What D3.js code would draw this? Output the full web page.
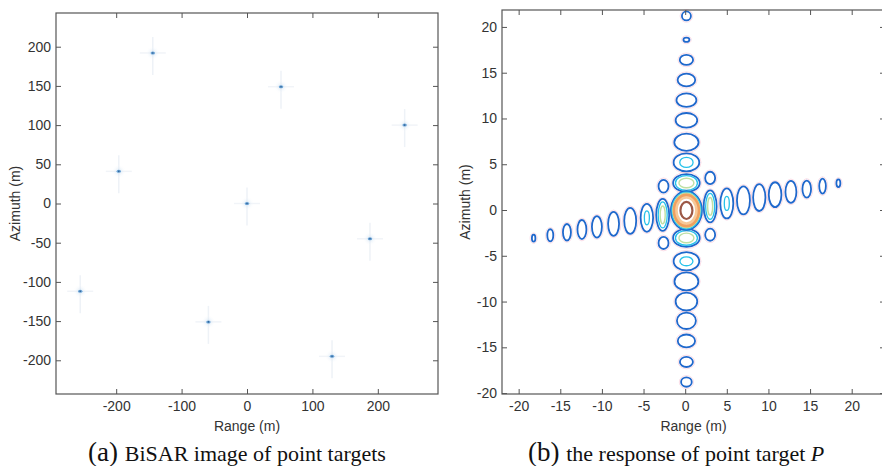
<!DOCTYPE html>
<html>
<head>
<meta charset="utf-8">
<script src="https://cdn.jsdelivr.net/npm/d3@7"></script>
<style>
  body { margin: 0; background: #fff; }
  svg { display: block; }
</style>
</head>
<body>
<script>
// ---- panel (a): point targets, range / azimuth in metres
const targetRange = [-144, 52, 241, -196, 0, 188, -255, -59, 130]
const targetAzimuth = [192, 149, 100, 41, 0, -45, -112, -151, -195]
const aRangeTicks = [-200, -100, 0, 100, 200]
const aAzimuthTicks = [-200, -150, -100, -50, 0, 50, 100, 150, 200]

// ---- panel (b): contour rings of the response of P
// level: 0 blue, 1 cyan, 2 green, 3 orange, 4 light orange, 5 brown
const columnRange = 0.15
// azimuth sidelobes along the column: [azimuth, rx, ry, level]
const azimuthLobes = [
  [21.2, 0.54, 0.49, 0],
  [18.6, 0.36, 0.24, 0],
  [16.4, 0.80, 0.55, 0],
  [14.2, 1.06, 0.69, 0],
  [12.0, 1.20, 0.74, 0],
  [9.8, 1.30, 0.80, 0],
  [7.4, 1.46, 0.94, 0],
  [5.2, 1.54, 0.98, 0],
  [5.2, 0.80, 0.55, 1],
  [2.95, 1.60, 0.98, 0],
  [2.95, 1.32, 0.80, 1],
  [2.95, 0.90, 0.52, 2],
  [-3.05, 1.60, 0.98, 0],
  [-3.05, 1.32, 0.80, 1],
  [-3.05, 0.90, 0.52, 2],
  [-5.6, 1.54, 1.00, 0],
  [-5.6, 0.78, 0.49, 1],
  [-7.8, 1.44, 0.98, 0],
  [-10.0, 1.30, 0.98, 0],
  [-12.1, 1.14, 0.90, 0],
  [-14.3, 1.04, 0.70, 0],
  [-16.6, 0.78, 0.55, 0],
  [-18.8, 0.64, 0.51, 0]
]
// range sidelobes along the tilted row: [range, azimuth, rx, ry, level]
const rangeLobes = [
  [-18.2, -3.08, 0.21, 0.38, 0],
  [-16.2, -2.76, 0.36, 0.66, 0],
  [-14.2, -2.43, 0.48, 0.90, 0],
  [-12.4, -2.13, 0.54, 1.04, 0],
  [-10.6, -1.84, 0.60, 1.17, 0],
  [-8.6, -1.51, 0.66, 1.31, 0],
  [-6.6, -1.18, 0.72, 1.42, 0],
  [-4.6, -0.85, 0.75, 1.53, 0],
  [-4.6, -0.85, 0.30, 0.76, 1],
  [-2.7, -0.54, 0.78, 1.75, 0],
  [-2.7, -0.54, 0.54, 1.42, 1],
  [-2.7, -0.54, 0.30, 0.98, 2],
  [3.0, 0.39, 0.78, 1.75, 0],
  [3.0, 0.39, 0.54, 1.42, 1],
  [3.0, 0.39, 0.30, 0.98, 2],
  [5.0, 0.72, 0.78, 1.64, 0],
  [5.0, 0.72, 0.30, 0.76, 1],
  [7.0, 1.05, 0.78, 1.53, 0],
  [8.9, 1.36, 0.74, 1.47, 0],
  [10.8, 1.67, 0.76, 1.36, 0],
  [12.7, 1.98, 0.66, 1.20, 0],
  [14.6, 2.29, 0.52, 0.93, 0],
  [16.5, 2.61, 0.40, 0.82, 0],
  [18.4, 2.92, 0.24, 0.42, 0]
]
// small diagonal lobes: [range, azimuth, rx, ry, level]
const crossLobes = [
  [-2.6, 2.6, 0.60, 0.70, 0],
  [3.0, 3.5, 0.60, 0.68, 0],
  [-2.6, -3.6, 0.60, 0.66, 0],
  [3.0, -2.7, 0.60, 0.66, 0]
]
// main lobe rings round P: [rx, ry, level]
const mainCenter = [0.15, -0.05]
const mainRings = [
  [1.86, 2.12, 0],
  [1.74, 2.0, 1],
  [1.62, 1.88, 2],
  [1.45, 1.68, 3],
  [1.2, 1.42, 4],
  [0.72, 0.93, 5]
]
const bRangeTicks = [-20, -15, -10, -5, 0, 5, 10, 15, 20]
const bAzimuthTicks = [-20, -15, -10, -5, 0, 5, 10, 15, 20]

const levelColor = ['#1f68cc', '#26c2ea', '#bfe0a4', '#f0a060', '#f7c998', '#9c5846']
const levelWidth = [1.8, 1.3, 1.4, 3.4, 2.6, 2.2]

const width = 882, height = 466
const sansFont = '"Liberation Sans", Arial, Helvetica, sans-serif'
const serifFont = '"Liberation Serif", "Times New Roman", serif'

const svg = d3.select('body').append('svg')
  .attr('width', width)
  .attr('height', height)

main()

function main() {
  // panel (a)
  const xa = d3.scaleLinear().domain([-292, 292]).range([56, 438])
  const ya = d3.scaleLinear().domain([-243, 243]).range([394, 13])
  drawFrame(xa, ya, aRangeTicks, aAzimuthTicks, 15)
  drawTargets(xa, ya)
  caption(88, '(a)', 'BiSAR image of point targets', null)

  // panel (b)
  const xb = d3.scaleLinear().domain([-22, 24]).range([502, 885])
  const yb = d3.scaleLinear().domain([-20.1, 21.85]).range([394, 10])
  drawContours(xb, yb)
  drawFrame(xb, yb, bRangeTicks, bAzimuthTicks, 465)
  caption(528, '(b)', 'the response of point target ', 'P')
}

function drawFrame(x, y, xTicks, yTicks, yLabelX) {
  const [x0, x1] = x.range()
  const [y1, y0] = y.range()
  const g = svg.append('g')

  g.append('rect')
    .attr('x', x0).attr('y', y0)
    .attr('width', x1 - x0).attr('height', y1 - y0)
    .attr('fill', 'none')
    .attr('stroke', '#555')
    .attr('stroke-width', 1.2)

  // MATLAB style: ticks pointing inward on all four sides
  const bottom = g.append('g')
    .attr('transform', 'translate(0,' + y1 + ')')
    .call(d3.axisBottom(x).tickValues(xTicks).tickSizeInner(-5).tickSizeOuter(0).tickPadding(7))
  const top = g.append('g')
    .attr('transform', 'translate(0,' + y0 + ')')
    .call(d3.axisTop(x).tickValues(xTicks).tickSizeInner(-5).tickSizeOuter(0).tickFormat(''))
  const left = g.append('g')
    .attr('transform', 'translate(' + x0 + ',0)')
    .call(d3.axisLeft(y).tickValues(yTicks).tickSizeInner(-5).tickSizeOuter(0).tickPadding(5))
  const right = g.append('g')
    .attr('transform', 'translate(' + x1 + ',0)')
    .call(d3.axisRight(y).tickValues(yTicks).tickSizeInner(-5).tickSizeOuter(0).tickFormat(''))

  for (const a of [bottom, top, left, right]) {
    a.select('.domain').remove()
    a.selectAll('line').attr('stroke', '#555')
    a.selectAll('text')
      .attr('fill', '#333')
      .style('font-family', sansFont)
      .style('font-size', '14px')
  }
  // keep the minus as a plain hyphen like the original
  bottom.selectAll('text').text(d => String(d))
  left.selectAll('text').text(d => String(d))

  g.append('text')
    .attr('x', (x0 + Math.min(x1, 885)) / 2)
    .attr('y', 431)
    .attr('text-anchor', 'middle')
    .attr('fill', '#333')
    .style('font-family', sansFont)
    .style('font-size', '14px')
    .text('Range (m)')

  g.append('text')
    .attr('transform', 'translate(' + yLabelX + ',' + ((y0 + y1) / 2) + ') rotate(-90)')
    .attr('dy', '0.35em')
    .attr('text-anchor', 'middle')
    .attr('fill', '#333')
    .style('font-family', sansFont)
    .style('font-size', '14px')
    .text('Azimuth (m)')
}

function drawTargets(x, y) {
  const defs = svg.append('defs')
  const grad = defs.append('radialGradient').attr('id', 'glow')
  grad.append('stop').attr('offset', '0%').attr('stop-color', '#bcd5ec').attr('stop-opacity', 0.6)
  grad.append('stop').attr('offset', '100%').attr('stop-color', '#ffffff').attr('stop-opacity', 0)

  const pts = targetRange.map((r, i) => ({ r: r, a: targetAzimuth[i] }))
  const g = svg.append('g')
  const pt = g.selectAll('g').data(pts).enter().append('g')
    .attr('transform', d => 'translate(' + x(d.r) + ',' + y(d.a) + ')')

  // faint sidelobe cross of each target
  pt.append('line')
    .attr('x1', 0).attr('x2', 0).attr('y1', -16).attr('y2', 22)
    .attr('stroke', '#eef2f7').attr('stroke-width', 1.5)
  pt.append('line')
    .attr('x1', -13).attr('x2', 13).attr('y1', 0).attr('y2', 0)
    .attr('stroke', '#f1f4f8').attr('stroke-width', 1.5)
  pt.append('circle').attr('r', 7).attr('fill', 'url(#glow)')
  pt.append('ellipse').attr('rx', 2.2).attr('ry', 1.5)
    .attr('fill', '#6aa3d6')
  pt.append('circle').attr('r', 0.8)
    .attr('fill', '#2d5f92')
}

function drawContours(x, y) {
  const rings = []
  for (const [a, rx, ry, level] of azimuthLobes) {
    rings.push({ r: columnRange, a: a, rx: rx, ry: ry, level: level })
  }
  for (const [r, a, rx, ry, level] of rangeLobes.concat(crossLobes)) {
    rings.push({ r: r, a: a, rx: rx, ry: ry, level: level })
  }
  for (const [rx, ry, level] of mainRings) {
    rings.push({ r: mainCenter[0], a: mainCenter[1], rx: rx, ry: ry, level: level })
  }

  const g = svg.append('g')
  const sx = d => x(d.r + d.rx) - x(d.r)
  const sy = d => y(d.a) - y(d.a + d.ry)

  // faint pink lowest level just outside the blue rings
  g.selectAll('.halo')
    .data(rings.filter(d => d.level === 0))
    .enter().append('ellipse')
    .attr('class', 'halo')
    .attr('cx', d => x(d.r)).attr('cy', d => y(d.a))
    .attr('rx', d => sx(d) + 1.8).attr('ry', d => sy(d) + 1.8)
    .attr('fill', 'none')
    .attr('stroke', '#f3a9c4')
    .attr('stroke-opacity', 0.4)
    .attr('stroke-width', 1)

  g.selectAll('.ring')
    .data(rings)
    .enter().append('ellipse')
    .attr('class', 'ring')
    .attr('cx', d => x(d.r)).attr('cy', d => y(d.a))
    .attr('rx', d => sx(d)).attr('ry', d => sy(d))
    .attr('fill', 'none')
    .attr('stroke', d => levelColor[d.level])
    .attr('stroke-width', d => levelWidth[d.level])
}

function caption(x0, tag, body, italic) {
  const t = svg.append('text')
    .attr('x', x0)
    .attr('y', 461)
    .attr('fill', '#111')
    .style('font-family', serifFont)
  t.append('tspan').style('font-size', '27px').text(tag + ' ')
  t.append('tspan').style('font-size', '22px').text(body)
  if (italic) t.append('tspan').style('font-size', '22px').style('font-style', 'italic').text(italic)
}
</script>
</body>
</html>
